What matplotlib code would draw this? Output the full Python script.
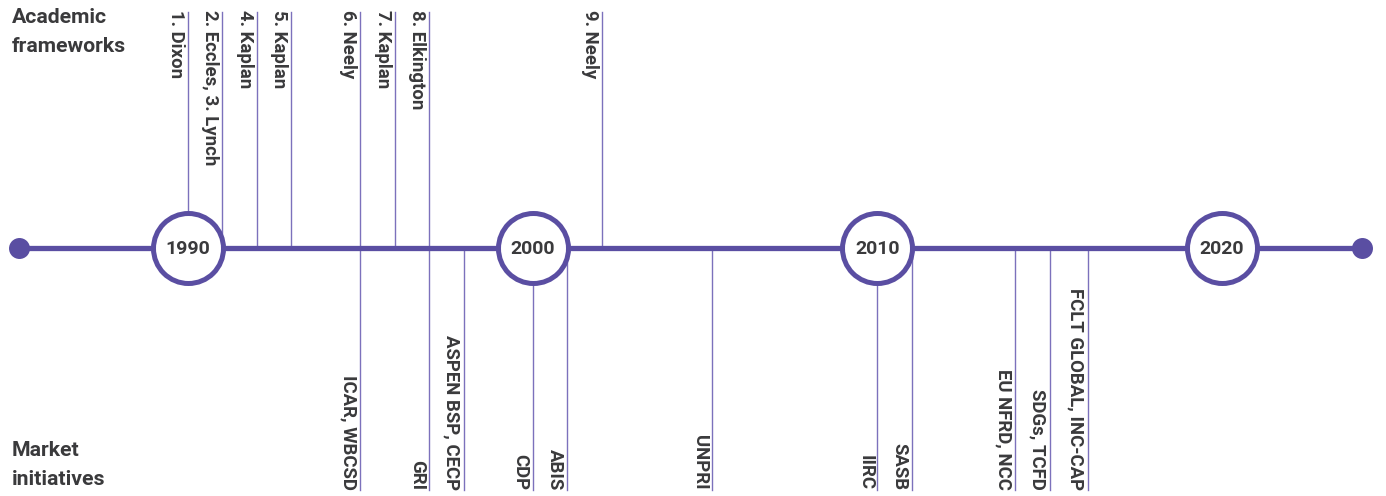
import numpy as np
from matplotlib import pyplot as plt

# timeline data (years)
academic_labels = ["1. Dixon", "2. Eccles, 3. Lynch", "4. Kaplan", "5. Kaplan",
                   "6. Neely", "7. Kaplan", "8. Elkington", "9. Neely"]
academic_years = [1990, 1991, 1992, 1993, 1995, 1996, 1997, 2002]

market_labels = ["ICAR, WBCSD", "GRI", "ASPEN BSP, CECP", "CDP", "ABIS", "UNPRI",
                 "IIRC", "SASB", "EU NFRD, NCC", "SDGs, TCFD", "FCLT GLOBAL, INC-CAP"]
market_years = [1995, 1997, 1998, 2000, 2001, 2005.2, 2010, 2011, 2014, 2015, 2016.1]

decades = [1990, 2000, 2010, 2020]
timeline_start = 1985.1
timeline_end = 2024.05

PURPLE = "#5a4ea2"
STEM = "#7c71bc"
TEXT = "#3a3a3c"
FONT = "Roboto"

W, H = 1386, 496
px_per_year = 34.47
x0 = 1990 - 188 / px_per_year
x1 = x0 + W / px_per_year

fig = plt.figure(figsize=(W / 100, H / 100), dpi=100)
ax = fig.add_axes([0, 0, 1, 1])
ax.set_xlim(x0, x1)
ax.set_ylim(H, 0)
ax.axis("off")

y_axis = 248
y_top = 12
y_bot = 490
gap = 3 / px_per_year

# main line + end dots
ax.plot([timeline_start, timeline_end], [y_axis, y_axis], color=PURPLE, lw=3.8, zorder=3,
        solid_capstyle="butt")
ax.scatter([timeline_start, timeline_end], [y_axis, y_axis], s=228, color=PURPLE, zorder=4,
           linewidths=0)

# decade circles
ax.scatter(decades, [y_axis] * len(decades), s=2540, facecolor="white", edgecolor=PURPLE,
           linewidths=3.6, zorder=5)
for d in decades:
    ax.text(d, y_axis + 1, str(d), ha="center", va="center", fontsize=14,
            fontweight="bold", color=TEXT, family=FONT, zorder=6)

# academic frameworks (above)
for lab, yr in zip(academic_labels, academic_years):
    ax.plot([yr, yr], [y_top, y_axis], color=STEM, lw=1.0, zorder=1)
    ax.text(yr - gap, y_top - 2, lab, rotation=-90, ha="right", va="top", fontsize=13.4,
            fontweight="bold", color=TEXT, family=FONT)

# market initiatives (below)
for lab, yr in zip(market_labels, market_years):
    ax.plot([yr, yr], [y_axis, y_bot], color=STEM, lw=1.0, zorder=1)
    ax.text(yr - gap, y_bot, lab, rotation=-90, ha="right", va="bottom", fontsize=13.4,
            fontweight="bold", color=TEXT, family=FONT)

# side titles
fig.text(12 / W, 1 - 8 / H, "Academic\nframeworks", ha="left", va="top", fontsize=15.3,
         fontweight="bold", color=TEXT, family=FONT, linespacing=1.65)
fig.text(12 / W, 1 - 489 / H, "Market\ninitiatives", ha="left", va="bottom", fontsize=15.3,
         fontweight="bold", color=TEXT, family=FONT, linespacing=1.65)

fig.savefig("out.png", dpi=100)
